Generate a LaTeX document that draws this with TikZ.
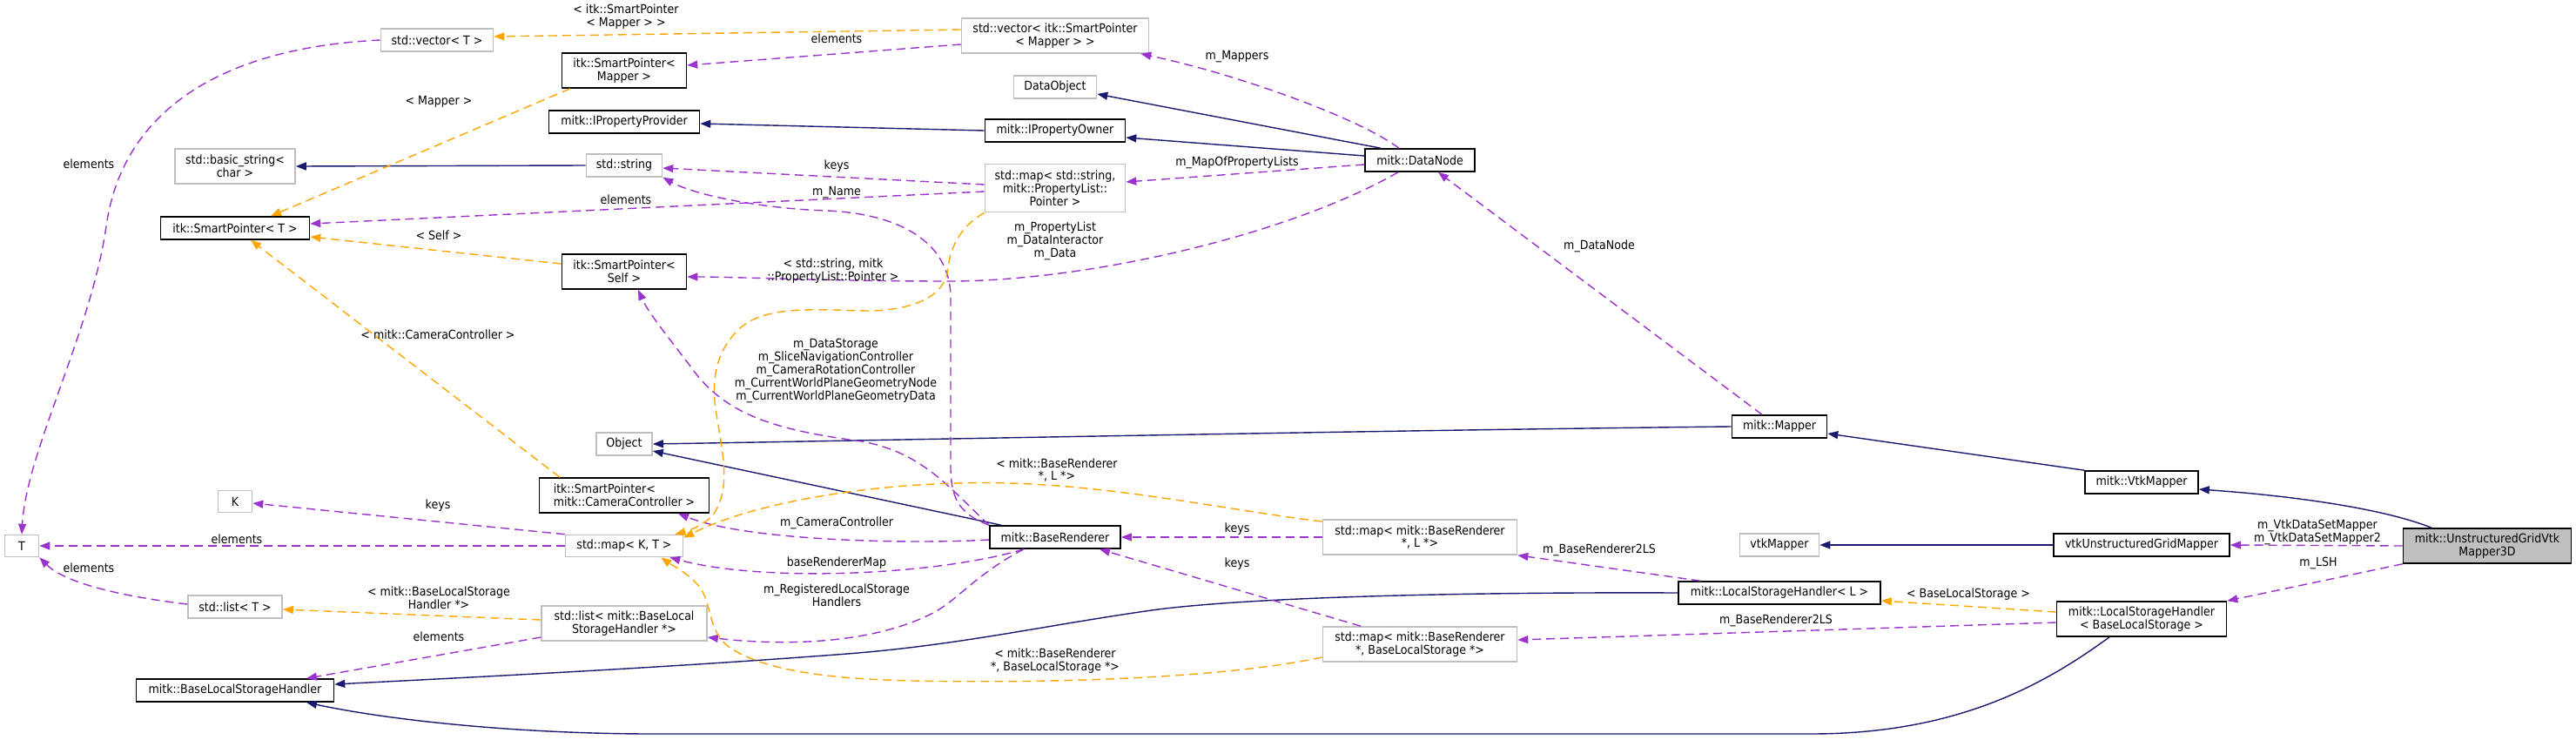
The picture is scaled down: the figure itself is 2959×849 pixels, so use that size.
\documentclass[tikz,border=0pt]{standalone}
\usepackage{fontspec}
\setmainfont{DejaVu Sans}[FakeStretch=0.9]
\usetikzlibrary{arrows.meta}
\usepackage{xcolor}

\definecolor{inhblue}{HTML}{191970}
\definecolor{useviolet}{HTML}{9A32CD}
\definecolor{tplorange}{HTML}{FFA500}
\definecolor{boxgray}{HTML}{BFBFBF}

\begin{document}
\begin{tikzpicture}[x=1pt, y=-1pt,
        every node/.style={font=\fontsize{14}{14.8}\selectfont, align=center, inner sep=0pt},
        cls/.style={draw=black, line width=1.6pt, fill=white, minimum height=26pt},
        ext/.style={draw=boxgray, line width=1.6pt, fill=white, minimum height=26pt},
        focus/.style={draw=black, line width=1.6pt, fill=boxgray},
        lbl/.style={},
        inherit/.style={draw=inhblue, line width=1.4pt, -{Stealth[inset=0pt, length=12pt, width=9pt]}},
        usage/.style={draw=useviolet, line width=1.4pt, dash pattern=on 10pt off 6pt, -{Stealth[inset=0pt, length=12pt, width=9pt]}},
        tmpl/.style={draw=tplorange, line width=1.4pt, dash pattern=on 10pt off 6pt, -{Stealth[inset=0pt, length=12pt, width=9pt]}}
    ]
        \useasboundingbox (0,0) rectangle (2959,849);

        % Classes, left part
        \node[ext, minimum width=129pt] (vecT) at (502,46) {std::vector< T >};
        \node[ext, minimum width=138pt, minimum height=40pt] (basicStr) at (270,191) {std::basic\_string<\\char >};
        \node[cls, minimum width=171pt] (spT) at (270,262) {itk::SmartPointer< T >};
        \node[ext, minimum width=39pt, minimum height=25pt] (K) at (270,576) {K};
        \node[ext, minimum width=39pt, minimum height=25pt] (T) at (25,627) {T};
        \node[ext, minimum width=108pt] (listT) at (270,697) {std::list< T >};
        \node[cls, minimum width=227pt] (blsh) at (270,793) {mitk::BaseLocalStorageHandler};

        % Classes, middle column
        \node[cls, minimum width=143pt, minimum height=40pt] (spMapper) at (717,81) {itk::SmartPointer<\\Mapper >};
        \node[cls, minimum width=173pt] (propProvider) at (717,140) {mitk::IPropertyProvider};
        \node[ext, minimum width=87pt] (stdString) at (717,190) {std::string};
        \node[cls, minimum width=143pt, minimum height=40pt] (spSelf) at (717,312) {itk::SmartPointer<\\Self >};
        \node[ext, minimum width=64pt] (object) at (717,510) {Object};
        \node[cls, minimum width=195pt, minimum height=40pt, align=left] (spCam) at (717,569) {itk::SmartPointer<\\ mitk::CameraController >};
        \node[ext, minimum width=135pt, minimum height=25pt] (mapKT) at (717,627) {std::map< K, T >};
        \node[ext, minimum width=190pt, minimum height=40pt] (listBLSH) at (717,716) {std::list< mitk::BaseLocal\\StorageHandler *>};

        % Classes, second column
        \node[ext, minimum width=215pt, minimum height=40pt] (vecSP) at (1212,41) {std::vector< itk::SmartPointer\\< Mapper > >};
        \node[ext, minimum width=95pt] (dataObject) at (1212,100) {DataObject};
        \node[cls, minimum width=161pt] (propOwner) at (1212,150) {mitk::IPropertyOwner};
        \node[ext, minimum width=161pt, minimum height=55pt] (propMap) at (1212,216) {std::map< std::string,\\mitk::PropertyList::\\Pointer >};
        \node[cls, minimum width=150pt] (renderer) at (1212,617) {mitk::BaseRenderer};

        % Classes, right part
        \node[cls, minimum width=126pt] (dataNode) at (1631,184) {mitk::DataNode};
        \node[ext, minimum width=223pt, minimum height=40pt] (mapL) at (1631,617) {std::map< mitk::BaseRenderer\\*, L *>};
        \node[ext, minimum width=223pt, minimum height=40pt] (mapBLS) at (1631,740) {std::map< mitk::BaseRenderer\\*, BaseLocalStorage *>};
        \node[cls, minimum width=109pt] (mapper) at (2044,490) {mitk::Mapper};
        \node[ext, minimum width=91pt] (vtkMapper) at (2044,626) {vtkMapper};
        \node[cls, minimum width=232pt] (lshL) at (2044,681) {mitk::LocalStorageHandler< L >};
        \node[cls, minimum width=130pt] (vtkMapperBase) at (2460,554) {mitk::VtkMapper};
        \node[cls, minimum width=202pt] (ugMapper) at (2460,626) {vtkUnstructuredGridMapper};
        \node[cls, minimum width=195pt, minimum height=40pt] (lshBLS) at (2460,711) {mitk::LocalStorageHandler\\< BaseLocalStorage >};
        \node[focus, minimum width=193pt, minimum height=40pt] (main) at (2857,627) {mitk::UnstructuredGridVtk\\Mapper3D};

        % Inheritance
        \draw[inherit] (stdString.west) -- (basicStr.east);
        \draw[inherit] (propOwner.west) -- ([yshift=-2pt]propProvider.east);
        \draw[inherit] ([xshift=-45pt]dataNode.north) -- ([yshift=-8pt]dataObject.east);
        \draw[inherit] ([yshift=5pt]dataNode.west) -- ([yshift=-8pt]propOwner.east);
        \draw[inherit] (mapper.west) .. controls (1600,494) and (1000,506) .. (object.east);
        \draw[inherit] ([xshift=-62pt]renderer.north) -- ([yshift=-8pt]object.east);
        \draw[inherit] (vtkMapperBase.north west) -- ([yshift=-8pt]mapper.east);
        \draw[inherit] ([xshift=-64pt]main.north) .. controls (2740,585) and (2640,570) .. ([yshift=-8pt]vtkMapperBase.east);
        \draw[inherit] (ugMapper.west) -- (vtkMapper.east);
        \draw[inherit] (lshL.west) .. controls (1700,680) and (1450,685) .. (1330,700)
            .. controls (1200,718) and (1100,742) .. (960,752)
            .. controls (750,768) and (500,780) .. ([yshift=7pt]blsh.east);
        \draw[inherit] ([xshift=-37pt]lshBLS.south) .. controls (2350,785) and (2250,843) .. (2080,843)
            -- (750,843) .. controls (600,843) and (450,828) .. ([xshift=82pt]blsh.south);

        % Members
        \draw[usage] (vecT.west) .. controls (250,55) and (140,130) .. (122,260)
            .. controls (105,380) and (30,520) .. (T.north);
        \draw[usage] ([yshift=-10pt]vecSP.west) -- ([yshift=6pt]spMapper.east);
        \draw[usage] ([xshift=-24pt]dataNode.north) .. controls (1560,135) and (1420,85) .. ([xshift=-10pt]vecSP.south east);
        \draw[usage] ([yshift=-5pt]dataNode.west) -- ([yshift=7pt]propMap.east);
        \draw[usage] ([yshift=4pt]propMap.west) -- ([yshift=-3pt]stdString.east);
        \draw[usage] ([yshift=-4pt]propMap.west) -- ([yshift=5pt]spT.east);
        \draw[usage] ([xshift=-25pt]dataNode.south) .. controls (1480,270) and (1250,323) .. (1090,323)
            .. controls (950,323) and (850,318) .. ([yshift=-6pt]spSelf.east);
        \draw[usage] (renderer.north west) .. controls (1100,590) and (1093,570) .. (1092,540)
            -- (1092,340) .. controls (1090,270) and (1020,245) .. (950,242)
            .. controls (880,240) and (800,225) .. (stdString.south east);
        \draw[usage] (renderer.north west) .. controls (1090,560) and (1060,520) .. (990,507)
            .. controls (900,495) and (840,480) .. (800,430)
            .. controls (770,390) and (745,360) .. ([xshift=16pt]spSelf.south);
        \draw[usage] ([yshift=-3pt]renderer.west) .. controls (1050,625) and (860,622) .. ([xshift=62pt]spCam.south);
        \draw[usage] ([xshift=-36pt]renderer.south) .. controls (1080,660) and (880,670) .. ([xshift=-16pt]mapKT.south east);
        \draw[usage] ([xshift=-36pt]renderer.south) .. controls (1120,660) and (1100,690) .. (1070,705)
            .. controls (1000,740) and (900,742) .. ([yshift=-16pt]listBLSH.east);
        \draw[usage] (mapL.west) -- (renderer.east);
        \draw[usage] ([xshift=-68pt]mapBLS.north) -- ([xshift=51pt]renderer.south);
        \draw[usage] ([xshift=-91pt]lshL.north) -- (mapL.south east);
        \draw[usage] ([yshift=-4pt]lshBLS.west) -- ([yshift=5pt]mapBLS.east);
        \draw[usage] (main.west) -- (ugMapper.east);
        \draw[usage] (main.south west) -- (lshBLS.north east);
        \draw[usage] ([xshift=-20pt]mapper.north) -- ([xshift=21pt]dataNode.south);
        \draw[usage] (mapKT.north west) -- ([yshift=-2pt]K.east);
        \draw[usage] (mapKT.west) -- (T.east);
        \draw[usage] ([yshift=3pt]listT.west) .. controls (140,685) and (75,670) .. (T.south east);
        \draw[usage] ([yshift=-16pt]listBLSH.west) -- ([xshift=82pt]blsh.north);

        % Template instances
        \draw[tmpl] ([yshift=7pt]vecSP.west) -- ([yshift=4pt]vecT.east);
        \draw[tmpl] ([xshift=-62pt]spMapper.south) -- ([xshift=41pt]spT.north);
        \draw[tmpl] ([yshift=9pt]spSelf.west) -- ([yshift=-10pt]spT.east);
        \draw[tmpl] ([xshift=-74pt]spCam.north) -- ([xshift=18pt]spT.south);
        \draw[tmpl] (propMap.south west) .. controls (1095,265) and (1090,295) .. (1088,315)
            .. controls (1080,345) and (1040,357) .. (995,357)
            .. controls (940,356) and (880,350) .. (850,377)
            .. controls (820,405) and (818,440) .. (822,470)
            .. controls (830,520) and (840,560) .. (820,590)
            .. controls (810,603) and (790,610) .. ([xshift=-10pt]mapKT.north east);
        \draw[tmpl] ([yshift=18pt]mapL.west) .. controls (1400,585) and (1250,550) .. (1100,555)
            .. controls (980,558) and (860,580) .. ([yshift=-4pt]mapKT.north east);
        \draw[tmpl] ([yshift=-15pt]mapBLS.west) .. controls (1400,780) and (1200,785) .. (1050,782)
            .. controls (950,780) and (880,770) .. (840,745)
            .. controls (810,725) and (820,690) .. (800,670)
            .. controls (785,655) and (770,648) .. ([xshift=-26pt]mapKT.south east);
        \draw[tmpl] ([yshift=4pt]listBLSH.west) -- ([yshift=-3pt]listT.east);
        \draw[tmpl] ([yshift=8pt]lshBLS.west) -- ([yshift=-9pt]lshL.east);

        % Edge labels
        \node[lbl] (lVecElem) at (102,188) {elements};
        \node[lbl] (lSPMapElem) at (961,44) {elements};
        \node[lbl] (lMappers) at (1421,65) {m\_Mappers};
        \node[lbl] (lMapProp) at (1421,187) {m\_MapOfPropertyLists};
        \node[lbl] (lStrKeys) at (961,191) {keys};
        \node[lbl] (lPropElem) at (719,229) {elements};
        \node[lbl] (lPropList) at (1212,277) {m\_PropertyList\\m\_DataInteractor\\m\_Data};
        \node[lbl] (lName) at (961,221) {m\_Name};
        \node[lbl] (lStorage) at (960,426) {m\_DataStorage\\m\_SliceNavigationController\\m\_CameraRotationController\\m\_CurrentWorldPlaneGeometryNode\\m\_CurrentWorldPlaneGeometryData};
        \node[lbl] (lCamCtrl) at (961,601) {m\_CameraController};
        \node[lbl] (lRendMap) at (961,647) {baseRendererMap};
        \node[lbl] (lRegLSH) at (961,684) {m\_RegisteredLocalStorage\\Handlers};
        \node[lbl] (lKeysL) at (1421,608) {keys};
        \node[lbl] (lKeysBLS) at (1421,648) {keys};
        \node[lbl] (lR2LS) at (1837,632) {m\_BaseRenderer2LS};
        \node[lbl] (lR2LSb) at (2040,713) {m\_BaseRenderer2LS};
        \node[lbl] (lVtkDS) at (2662,611) {m\_VtkDataSetMapper\\m\_VtkDataSetMapper2};
        \node[lbl] (lLSH) at (2663,647) {m\_LSH};
        \node[lbl] (lDataNode) at (1837,283) {m\_DataNode};
        \node[lbl] (lKKeys) at (503,581) {keys};
        \node[lbl] (lKTElem) at (272,619) {elements};
        \node[lbl] (lListElem) at (102,652) {elements};
        \node[lbl] (lBLSHElem) at (504,731) {elements};
        \node[lbl] (lTplVec) at (719,19) {< itk::SmartPointer\\< Mapper > >};
        \node[lbl] (lTplMapper) at (504,117) {< Mapper >};
        \node[lbl] (lTplSelf) at (504,270) {< Self >};
        \node[lbl] (lTplCam) at (503,384) {< mitk::CameraController >};
        \node[lbl] (lTplProp) at (957,311) {< std::string, mitk\\::PropertyList::Pointer >};
        \node[lbl] (lTplL) at (1214,540) {< mitk::BaseRenderer\\*, L *>};
        \node[lbl] (lTplBLS) at (1212,759) {< mitk::BaseRenderer\\*, BaseLocalStorage *>};
        \node[lbl] (lTplList) at (504,687) {< mitk::BaseLocalStorage\\Handler *>};
        \node[lbl] (lTplLSH) at (2261,683) {< BaseLocalStorage >};

\end{tikzpicture}
\end{document}
